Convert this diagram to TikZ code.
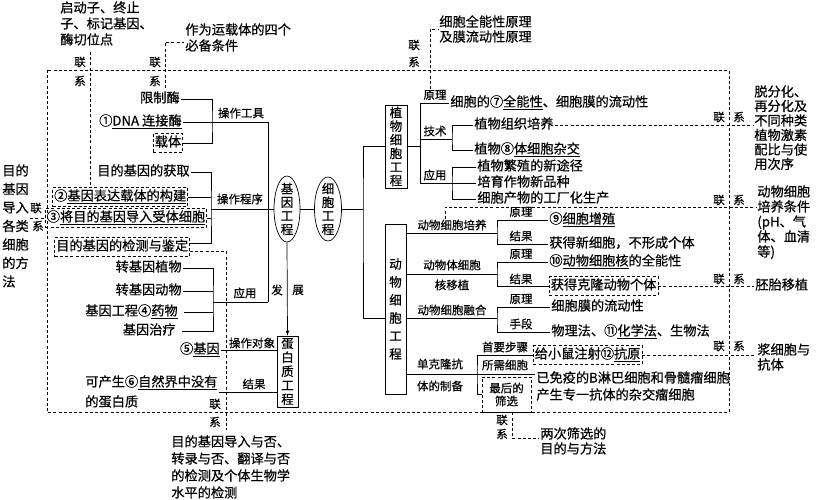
\documentclass[tikz,border=0pt]{standalone}
\usepackage{fontspec}
\setmainfont{Noto Sans CJK SC}[FakeBold=0.6]
\usetikzlibrary{shapes.geometric}
\newcommand\mainfs{\fontsize{13.2}{16}\selectfont}
\newcommand\smallfs{\fontsize{11.5}{13}\selectfont}

\begin{document}
\begin{tikzpicture}[x=1pt, y=-1pt, line width=0.7pt,
    txt/.style={inner sep=1pt, font=\mainfs, text height=11.5pt, text depth=4.5pt},
    mtxt/.style={inner sep=1pt, align=left, anchor=north west},
    lbl/.style={inner sep=0.5pt, font=\smallfs},
    vtxt/.style={align=center, inner sep=0pt, font=\fontsize{12.5}{13.6}\selectfont},
    dl/.style={dash pattern=on 3pt off 2.2pt, line width=0.6pt},
    dbox/.style={draw, dl, inner xsep=1.5pt, inner ysep=1.5pt}]
    \useasboundingbox (0,0) rectangle (824,500);

    % outer frame of the links
    \draw[dl] (47,70) rectangle (729,412);

    % centre: gene and cell engineering
    \node[draw, ellipse, vtxt, inner ysep=-6pt, minimum width=26pt, minimum height=66pt] (jygc) at (287,209) {基\\因\\工\\程};
    \node[draw, ellipse, vtxt, inner ysep=-6pt, minimum width=27pt, minimum height=64pt] (xbgc) at (328,209) {细\\胞\\工\\程};
    \draw (jygc) -- (xbgc);

    % plant and animal cell engineering
    \node[draw, vtxt, minimum width=22pt, minimum height=83pt] (zwxb) at (396,146.5) {植\\物\\细\\胞\\工\\程};
    \node[draw, vtxt, font=\fontsize{12.5}{18}\selectfont, minimum width=21pt, minimum height=170pt] (dwxb) at (395.5,309) {动\\物\\细\\胞\\工\\程};
    \coordinate (xr) at (363,209);
    \draw (xbgc.east) -- (xr);
    \draw (zwxb.west) -| (xr) |- ([yshift=-9pt]dwxb.west);

    % plant branches
    \coordinate (p1) at (420,103);
    \coordinate (p2) at (420,139);
    \coordinate (p3) at (420,183);
    \coordinate (p4) at (452,139);
    \coordinate (p5) at (452,183);
    \draw (zwxb.east) -- (zwxb.east -| p1);
    \draw (p1) -- (p3) (p2) -- (p4) (p3) -- (p5);
    \node[lbl] (yl1) at (435,95) {原理};
    \node[lbl] (js1) at (435,131) {技术};
    \node[lbl] (yy1) at (435,175) {应用};
    \node[txt, anchor=west] (qnx) at (449,103) {细胞的⑦\underline{全能性}、细胞膜的流动性};
    \draw (p1) -- (qnx.west);
    \node[txt, anchor=west] (zzpy) at (473,125) {植物组织培养};
    \node[txt, anchor=west] (tzj) at (473,150) {植物⑧\underline{体细胞杂交}};
    \draw (zzpy.west) -| (p4) |- (tzj.west);
    \node[txt, anchor=west] (fzxt) at (476,167) {植物繁殖的新途径};
    \node[txt, anchor=west] (pyxp) at (476,183) {培育作物新品种};
    \node[txt, anchor=west] (gchs) at (476,199) {细胞产物的工厂化生产};
    \draw (fzxt.west) -| (p5) |- (gchs.west);
    \draw (p5) -- (pyxp.west);

    % animal branches
    \coordinate (a1) at (497,233);
    \coordinate (a2) at (497,274);
    \coordinate (a3) at (497,318);
    \coordinate (a4) at (477,374);
    \draw (dwxb.east |- a1) -- (a1);
    \draw (dwxb.east |- a2) -- (a2);
    \draw (dwxb.east |- a3) -- (a3);
    \node[lbl] (dwpy) at (452,225) {动物细胞培养};
    \node[lbl] (hyz1) at (452,265) {动物体细胞};
    \node[lbl] (hyz2) at (452,285) {核移植};
    \node[lbl] (xbrh) at (452,310) {动物细胞融合};
    \node[lbl] (dkl1) at (440,364) {单克隆抗};
    \node[lbl] (dkl2) at (440,386) {体的制备};
    \node[txt, anchor=west] (zz9) at (548,220) {⑨\underline{细胞增殖}};
    \node[txt, anchor=west] (xxb) at (548,244) {获得新细胞，不形成个体};
    \draw (zz9.west) -| (a1) |- (xxb.west);
    \node[lbl] (yl2) at (521,212) {原理};
    \node[lbl] (jg1) at (521,236) {结果};
    \node[txt, anchor=west] (qn10) at (548,262) {⑩\underline{动物细胞核}的全能性};
    \node[txt, dbox, anchor=west] (klgt) at (549,286) {获得克隆动物个体};
    \draw (qn10.west) -| (a2) |- (klgt.west);
    \node[lbl] (yl3) at (521,254) {原理};
    \node[lbl] (jg2) at (521,279) {结果};
    \node[txt, anchor=west] (ldx) at (550,307) {细胞膜的流动性};
    \node[txt, anchor=west] (sd11) at (550,332) {物理法、⑪\underline{化学法}、生物法};
    \draw (ldx.west) -| (a3) |- (sd11.west);
    \node[lbl] (yl4) at (521,299) {原理};
    \node[lbl] (sd) at (521,324) {手段};
    \node[txt, dbox, anchor=west] (zs12) at (533,355) {给小鼠注射⑫\underline{抗原}};
    \node[lbl, dbox, align=center, minimum width=49pt, minimum height=35pt] (sx) at (506.5,394.5) {最后的\\筛选};
    \node[txt, anchor=west] (myb) at (535,379) {已免疫的B淋巴细胞和骨髓瘤细胞};
    \node[txt, anchor=west] (zjx) at (535,396) {产生专一抗体的杂交瘤细胞};
    \draw (zs12.west) -| (a4) |- (sx.west);
    \draw (dwxb.east |- a4) -- (myb.west |- a4);
    \node[lbl] (sybz) at (505,347) {首要步骤};
    \node[lbl] (sxxb) at (505,365) {所需细胞};

    % gene engineering branches
    \coordinate (g0) at (268,209);
    \coordinate (g2) at (268,302);
    \draw (jygc.west) -- (g0);
    \node[txt, anchor=east] (xzm) at (181,99) {限制酶};
    \node[txt, anchor=east] (ljm) at (183,122) {①\underline{DNA 连接酶}};
    \node[txt, dbox, anchor=east] (zt) at (183,143) {载体};
    \coordinate (b1) at (212,122);
    \draw (xzm.east) -| (b1) |- (zt.east);
    \draw (ljm.east) -- (ljm.east -| g0) -- (g2);
    \node[lbl] (czgj) at (241,113) {操作工具};
    \node[txt, anchor=east] (hq) at (191,172) {目的基因的获取};
    \node[txt, dbox, anchor=east] (gz2) at (188,197) {②\underline{基因表达载体的构建}};
    \node[txt, dbox, anchor=east] (dr3) at (207,218) {③\underline{将目的基因导入受体细胞}};
    \node[txt, dbox, anchor=east] (jcjd) at (190,247) {目的基因的检测与鉴定};
    \coordinate (b2) at (211,209);
    \draw (hq.east) -| (b2) |- ([yshift=4pt]jcjd.east);
    \draw (gz2.east) -- (gz2.east -| b2);
    \draw (dr3.east) -- (dr3.east -| b2);
    \draw (b2) -- (g0);
    \node[lbl] (czcx) at (240,199) {操作程序};
    \node[txt, anchor=east] (zjzw) at (183,268) {转基因植物};
    \node[txt, anchor=east] (zjdw) at (183,291) {转基因动物};
    \node[txt, anchor=east] (yw4) at (179,312) {基因工程④\underline{药物}};
    \node[txt, anchor=east] (jyzl) at (177,331) {基因治疗};
    \coordinate (b3) at (213,302);
    \draw (zjzw.east) -| (b3) |- ([xshift=5pt]jyzl.east);
    \draw (zjdw.east) -- (zjdw.east -| b3);
    \draw ([xshift=5pt]yw4.east) -- (yw4.east -| b3);
    \draw (b3) -- (g2);
    \node[lbl] (yy2) at (245,293) {应用};

    % protein engineering
    \node[draw, vtxt, font=\fontsize{12.5}{14}\selectfont, minimum width=21pt, minimum height=71pt] (dbzgc) at (287.5,371.5) {蛋\\白\\质\\工\\程};
    \draw[-latex] (jygc.south) -- (dbzgc.north);
    \node[lbl] (fa) at (277,290) {发};
    \node[lbl] (zhan) at (298,290) {展};
    \node[txt, anchor=east] (jy5) at (221,350) {⑤\underline{基因}};
    \draw (jy5.east) -- (jy5.east -| dbzgc.west);
    \node[lbl] (czdx) at (252,343) {操作对象};
    \node[txt, anchor=west] (zr6) at (84,383) {可产生⑥\underline{自然界中没有}};
    \node[txt, anchor=west] (dbz) at (84,403) {的蛋白质};
    \draw (zr6.south east) -- (zr6.south east -| dbzgc.west);
    \node[lbl] (jg3) at (254,384) {结果};

    % links outside the frame
    \node[mtxt, font=\fontsize{13.2}{16}\selectfont] (qdz) at (59,0) {启动子、终止\\子、标记基因、\\酶切位点};
    \coordinate (c4) at (90,52);
    \draw[dl] (c4) -- (c4 |- gz2.north);
    \node[lbl] (lx1) at (80,62) {联};
    \node[lbl] (xi1) at (80,81) {系};
    \node[mtxt, font=\fontsize{13.2}{16}\selectfont] (btj) at (184,22) {作为运载体的四个\\必备条件};
    \coordinate (c6) at (165,88);
    \draw[dl] (c6) |- ([yshift=-5pt]btj.west);
    \node[lbl] (lx2) at (155,62) {联};
    \node[lbl] (xi2) at (155,81) {系};
    \node[mtxt, font=\fontsize{13.2}{15}\selectfont] (qnyl) at (438,14) {细胞全能性原理\\及膜流动性原理};
    \coordinate (c7) at (430,89);
    \draw[dl] (c7) |- (qnyl.west);
    \node[lbl] (lx3) at (414,45) {联};
    \node[lbl] (xi3) at (414,62) {系};
    \node[mtxt, font=\fontsize{13.2}{18.5}\selectfont] (ffa) at (1,163) {目的\\基因\\导入\\各类\\细胞\\的方\\法};
    \draw[dl] (ffa.east |- dr3.west) -- (dr3.west);
    \node[lbl] (lx4) at (36,208) {联};
    \node[lbl] (xi4) at (38,226) {系};
    \node[mtxt, font=\fontsize{13.2}{17}\selectfont] (jcx) at (170,434) {目的基因导入与否、\\转录与否、翻译与否\\的检测及个体生物学\\水平的检测};
    \coordinate (c3) at (226,430);
    \draw[dl] ([yshift=-4pt]jcjd.east) -| (c3);
    \node[lbl] (lx5) at (215,404) {联};
    \node[lbl] (xi5) at (215,422) {系};
    \node[mtxt, font=\fontsize{13.2}{15}\selectfont] (lcsx) at (539,426) {两次筛选的\\目的与方法};
    \coordinate (c5) at (512,438);
    \draw[dl] (sx.south -| c5) -- (c5) -- (c5 -| lcsx.west);
    \node[lbl] (lx6) at (502,420) {联};
    \node[lbl] (xi6) at (502,434) {系};

    % links on the right
    \node[mtxt, font=\fontsize{13.2}{14.5}\selectfont] (jsb) at (753,84) {脱分化、\\再分化及\\不同种类\\植物激素\\配比与使\\用次序};
    \draw[dl] (zzpy.east) -- (zzpy.east -| jsb.west);
    \node[lbl] (lx7) at (719,117) {联};
    \node[lbl] (xi7) at (739,117) {系};
    \node[mtxt, font=\fontsize{13.2}{15}\selectfont] (pytj) at (756,184) {动物细胞\\培养条件\\(pH、气\\体、血清\\等)};
    \coordinate (c2) at (445,207);
    \draw[dl] (dwpy.north -| c2) -- (c2) -- (c2 -| pytj.west);
    \node[lbl] (lx8) at (719,200) {联};
    \node[lbl] (xi8) at (739,200) {系};
    \node[txt, anchor=west] (ptyz) at (754,286) {胚胎移植};
    \draw[dl] (klgt.east) -- (ptyz.west);
    \node[lbl] (lx9) at (719,279) {联};
    \node[lbl] (xi9) at (739,279) {系};
    \node[mtxt, font=\fontsize{13.2}{15}\selectfont] (jxb) at (756,342) {浆细胞与\\抗体};
    \draw[dl] (zs12.east) -- (zs12.east -| jxb.west);
    \node[lbl] (lx10) at (719,346) {联};
    \node[lbl] (xi10) at (739,346) {系};
\end{tikzpicture}
\end{document}
